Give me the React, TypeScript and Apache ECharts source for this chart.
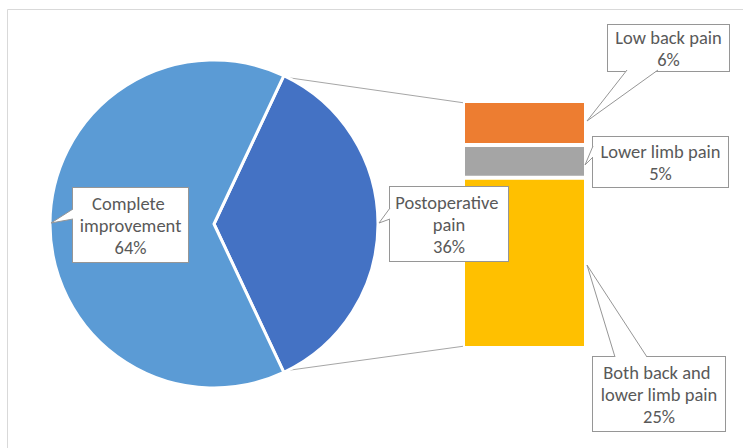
import React, { useEffect, useRef } from 'react';
import * as echarts from 'echarts';

// ---- data ----
const pieCategories = ['Postoperative pain', 'Complete improvement'];
const pieValues = [36, 64];
// stacked bar, bottom to top
const barCategories = ['Both back and lower limb pain', 'Lower limb pain', 'Low back pain'];
const barValues = [24.8, 4.8, 6.4];

// ---- styles / layout ----
const pieColors = ['#4472C4', '#5B9BD5'];
const barColors = ['#FFC000', '#A5A5A5', '#ED7D31'];
const TEXT = '#595959';
const BOX = '#969696';
const FONT = 'Calibri, Carlito, Lato, sans-serif';
const FS = 18.5;
const LH = 22;

const PIE_CX = 214;
const PIE_CY = 224;
const PIE_R = 164;
const GRID_L = 463;
const GRID_T = 101;
const GRID_W = 123;
const GRID_H = 247;
const BORDER = 2;

// callout boxes: center x, top y, content width, padding
const pieBoxes = [
  { cx: 449, top: 187, w: 110, pad: [4, 4, 4, 4] },
  { cx: 130.5, top: 188, w: 107, pad: [4, 4, 4, 4] },
];
const barBoxes = [
  { cx: 659, top: 357, w: 124, pad: [4, 4, 4, 4] },
  { cx: 660.5, top: 137, w: 127, pad: [3, 4, 3, 4] },
  { cx: 668.5, top: 25, w: 113, pad: [1, 4, 1, 4] },
];
// callout pointers: base point, tip, base point
const pointers: number[][][] = [
  [[390, 208], [379, 223], [390, 219]],
  [[73, 209], [51, 223], [73, 219]],
  [[615, 357], [587, 265], [647, 357]],
  [[593, 146], [585, 165], [593, 157]],
  [[627, 70], [587, 121], [658, 70]],
];

export default function App() {
  const ref = useRef<HTMLDivElement>(null);
  useEffect(() => {
    if (!ref.current) return;
    const chart = echarts.init(ref.current, undefined, { renderer: 'svg' });

    const total = pieValues.reduce((a, b) => a + b, 0);
    const half = (pieValues[0] / total) * 180;
    const rad = (half * Math.PI) / 180;
    const edgeR = PIE_R - 1.5;
    const topPt = [PIE_CX + edgeR * Math.cos(rad), PIE_CY - edgeR * Math.sin(rad)];
    const botPt = [PIE_CX + edgeR * Math.cos(rad), PIE_CY + edgeR * Math.sin(rad)];
    const barTop = [GRID_L + BORDER, GRID_T + BORDER];
    const barBot = [GRID_L + BORDER, GRID_T + GRID_H - BORDER];

    const labelStyle = {
      fontFamily: FONT,
      fontSize: FS,
      lineHeight: LH,
      color: TEXT,
      backgroundColor: '#ffffff',
      borderColor: BOX,
      borderWidth: 1,
      overflow: 'break',
    };

    const graphics: any[] = [
      {
        type: 'rect',
        shape: { x: 7.5, y: 9.5, width: 900, height: 600 },
        style: { fill: 'none', stroke: '#d9d9d9', lineWidth: 1 },
        z: -10,
        silent: true,
      },
      {
        type: 'line',
        shape: { x1: topPt[0], y1: topPt[1], x2: barTop[0], y2: barTop[1] },
        style: { stroke: '#a6a6a6', lineWidth: 1 },
        silent: true,
      },
      {
        type: 'line',
        shape: { x1: botPt[0], y1: botPt[1], x2: barBot[0], y2: barBot[1] },
        style: { stroke: '#a6a6a6', lineWidth: 1 },
        silent: true,
      },
    ];
    pointers.forEach((p) => {
      const [a, tip, b] = p;
      const inward = (pt: number[]) => {
        const dx = pt[0] - tip[0];
        const dy = pt[1] - tip[1];
        const len = Math.sqrt(dx * dx + dy * dy);
        return [pt[0] + (dx / len) * 1.5, pt[1] + (dy / len) * 1.5];
      };
      graphics.push({
        type: 'polygon',
        shape: { points: [inward(a), tip, inward(b)] },
        style: { fill: '#ffffff', stroke: null },
        z: 50,
        silent: true,
      });
      graphics.push({
        type: 'polyline',
        shape: { points: [a, tip, b] },
        style: { fill: null, stroke: BOX, lineWidth: 1 },
        z: 51,
        silent: true,
      });
    });

    const barSeries = barCategories.map((name, i) => ({
      type: 'bar',
      name,
      stack: 'sub',
      barWidth: GRID_W,
      data: [barValues[i]],
      itemStyle: { color: barColors[i], borderColor: '#ffffff', borderWidth: BORDER },
      label: {
        show: true,
        position: 'inside',
        ...labelStyle,
        width: barBoxes[i].w,
        padding: barBoxes[i].pad,
        formatter: (p: any) => `${p.seriesName}\n${Math.round(p.value)}%`,
      },
      labelLayout: () => ({
        x: barBoxes[i].cx,
        y: barBoxes[i].top,
        align: 'center',
        verticalAlign: 'top',
      }),
      silent: true,
    }));

    chart.setOption({
      animation: false,
      backgroundColor: '#ffffff',
      grid: { left: GRID_L, top: GRID_T, width: GRID_W, height: GRID_H, containLabel: false },
      xAxis: { type: 'category', data: ['sub'], show: false },
      yAxis: { type: 'value', min: 0, max: pieValues[0], show: false },
      series: [
        {
          type: 'pie',
          center: [PIE_CX, PIE_CY],
          radius: PIE_R,
          startAngle: half,
          clockwise: true,
          silent: true,
          itemStyle: { borderColor: '#ffffff', borderWidth: 3 },
          data: pieCategories.map((name, i) => ({
            name,
            value: pieValues[i],
            itemStyle: { color: pieColors[i], borderColor: '#ffffff', borderWidth: 3 },
            label: { width: pieBoxes[i].w, padding: pieBoxes[i].pad },
          })),
          labelLine: { show: false },
          label: {
            show: true,
            position: 'inside',
            ...labelStyle,
            formatter: (p: any) => `${p.name}\n${Math.round(p.value)}%`,
          },
          labelLayout: (p: any) => ({
            x: pieBoxes[p.dataIndex].cx,
            y: pieBoxes[p.dataIndex].top,
            align: 'center',
            verticalAlign: 'top',
          }),
          emphasis: { disabled: true },
        },
        ...barSeries,
      ],
      graphic: graphics,
    });

    return () => chart.dispose();
  }, []);
  return (
    <div
      ref={ref}
      style={{ position: 'absolute', left: 0, top: 0, width: 743, height: 448 }}
    />
  );
}
